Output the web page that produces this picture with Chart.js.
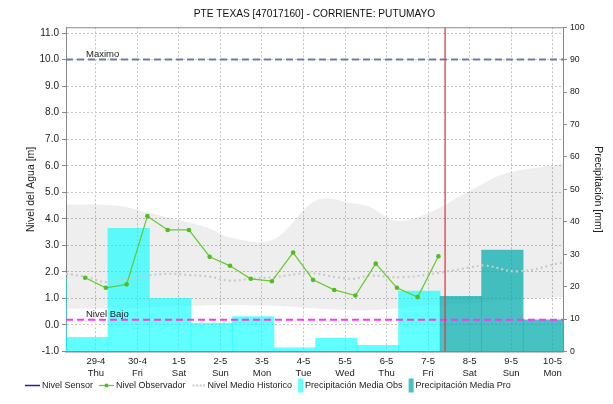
<!DOCTYPE html>
<html>
<head>
<meta charset="utf-8">
<script src="https://cdn.jsdelivr.net/npm/chart.js@4.4.1/dist/chart.umd.min.js"></script>
<style>
  html, body { margin: 0; padding: 0; background: #fff; }
  #wrap { width: 613px; height: 404px; }
</style>
</head>
<body>
<div id="wrap"><canvas id="nivel" width="613" height="404"></canvas></div>
<script>
// eje x: un dia por unidad, 0 = 29-4
var dias = ["29-4", "30-4", "1-5", "2-5", "3-5", "4-5", "5-5", "6-5", "7-5", "8-5", "9-5", "10-5"];
var diasSemana = ["Thu", "Fri", "Sat", "Sun", "Mon", "Tue", "Wed", "Thu", "Fri", "Sat", "Sun", "Mon"];
var diaInicio = -0.72;
var diaFin = 11.25;
var horaActual = 8.41;

// niveles de referencia [m]
var nivelMaximo = 10.0;
var nivelBajo = 0.2;

// lecturas del observador (dia, nivel m)
var obsDia = [-0.26, 0.24, 0.74, 1.24, 1.73, 2.24, 2.74, 3.23, 3.73, 4.24, 4.75, 5.23, 5.74, 6.25, 6.74, 7.25, 7.75, 8.25];
var obsNivel = [1.78, 1.40, 1.53, 4.10, 3.58, 3.58, 2.57, 2.23, 1.74, 1.65, 2.73, 1.70, 1.32, 1.11, 2.31, 1.40, 1.05, 2.59];

// nivel medio historico
var medioDia = [-0.72, -0.26, 0.26, 0.74, 1.22, 1.78, 2.26, 2.75, 3.23, 3.71, 4.26, 5.15, 5.80, 6.19, 6.60, 7.39, 8.36, 9.01, 9.37, 10.16, 11.25];
var medioNivel = [1.93, 1.82, 1.61, 1.74, 1.86, 1.93, 1.88, 1.82, 1.67, 1.74, 1.80, 1.95, 1.80, 1.74, 1.86, 1.80, 1.99, 2.17, 2.24, 2.02, 2.36];

// rango historico (maximo / minimo)
var rangoDia = [-0.72, 0.5, 1.22, 2.34, 2.75, 3.23, 4.26, 5.32, 6.19, 6.6, 7.24, 7.97, 9.01, 9.85, 11.25];
var rangoSup = [4.54, 4.50, 4.25, 3.82, 3.63, 3.30, 3.21, 4.71, 4.59, 4.45, 3.93, 4.19, 5.06, 5.70, 6.08];
var rangoInf = [0.61, 0.63, 0.66, 0.72, 0.74, 0.75, 0.72, 0.62, 0.55, 0.55, 0.62, 0.72, 0.82, 0.92, 1.05];

// precipitacion diaria [mm]
var precipObsDia = [-1, 0, 1, 2, 3, 4, 5, 6, 7, 8];
var precipObs = [22.8, 4.4, 38.0, 16.4, 8.8, 10.8, 1.1, 4.1, 1.9, 18.6];
var precipProDia = [9, 10, 11];
var precipPro = [17.0, 31.3, 9.8];
var desfaseLluvia = -0.21; // ventana de acumulacion respecto al dia

var fuente = "'Liberation Sans', Arial, sans-serif";
var colorCyan = "rgba(0,255,255,0.62)";
var colorTeal = "rgba(0,170,170,0.72)";

function pares(xs, ys) {
  return xs.map(function (x, i) { return { x: x, y: ys[i] }; });
}
function barras(ds, vals) {
  return ds.map(function (d, i) { return { x: d + desfaseLluvia, y: vals[i] }; });
}

// simbolos de la leyenda: ancho y como dibujarlos en (x, y centro)
function linea(g, x, y, color, ancho) {
  g.strokeStyle = color; g.lineWidth = ancho;
  g.beginPath(); g.moveTo(x, y); g.lineTo(x + 15, y); g.stroke();
}
var simbolos = [
  { ancho: 15, dibujar: function (g, x, y) { linea(g, x, y, "#1c1cb4", 1.5); } },
  { ancho: 15, dibujar: function (g, x, y) {
      linea(g, x, y, "#66cc33", 1.3);
      g.fillStyle = "#55bb22"; g.beginPath(); g.arc(x + 7.5, y, 2, 0, Math.PI * 2); g.fill();
  } },
  { ancho: 14, dibujar: function (g, x, y) {
      g.fillStyle = "#cccccc";
      for (var i = 0; i < 4; i++) g.fillRect(x + 1 + i * 3.5, y - 1, 2, 2);
  } },
  { ancho: 5, dibujar: function (g, x, y) { g.fillStyle = colorCyan; g.fillRect(x, y - 7, 5, 14); } },
  { ancho: 5, dibujar: function (g, x, y) { g.fillStyle = colorTeal; g.fillRect(x, y - 7, 5, 14); } }
];
var leyendaX = 25, leyendaY = 385.5;

// lineas de referencia, marca de hora actual, marco superior y leyenda
var extras = {
  id: "extras",
  afterDatasetsDraw: function (chart) {
    var ctx = chart.ctx, a = chart.chartArea, y = chart.scales.y, x = chart.scales.x;
    ctx.save();
    ctx.beginPath(); ctx.rect(a.left, a.top, a.right - a.left, a.bottom - a.top); ctx.clip();
    function horizontal(v, color, texto) {
      var py = y.getPixelForValue(v);
      ctx.strokeStyle = color; ctx.lineWidth = 2; ctx.setLineDash([7, 4]);
      ctx.beginPath(); ctx.moveTo(a.left, py); ctx.lineTo(a.right, py); ctx.stroke();
      ctx.setLineDash([]);
      ctx.fillStyle = "#222"; ctx.font = "9.5px " + fuente;
      ctx.textAlign = "left"; ctx.textBaseline = "alphabetic";
      ctx.fillText(texto, a.left + 20, py - 3);
    }
    horizontal(nivelMaximo, "#6e7ca3", "Maximo");
    horizontal(nivelBajo, "#ff33ff", "Nivel Bajo");
    var px = x.getPixelForValue(horaActual);
    ctx.strokeStyle = "#e83a3a"; ctx.lineWidth = 1.3;
    ctx.beginPath(); ctx.moveTo(px, a.top); ctx.lineTo(px, a.bottom); ctx.stroke();
    ctx.restore();
    ctx.save();
    ctx.strokeStyle = "#888"; ctx.lineWidth = 1;
    ctx.beginPath(); ctx.moveTo(a.left, a.top + 0.5); ctx.lineTo(a.right, a.top + 0.5); ctx.stroke();
    ctx.restore();
  },
  afterDraw: function (chart) {
    var ctx = chart.ctx, px = leyendaX;
    ctx.save();
    ctx.font = "9px " + fuente; ctx.textAlign = "left"; ctx.textBaseline = "middle";
    simbolos.forEach(function (s, i) {
      var texto = chart.data.datasets[i].label;
      s.dibujar(ctx, px, leyendaY);
      px += s.ancho + 2;
      ctx.fillStyle = "#222";
      ctx.fillText(texto, px, leyendaY);
      px += ctx.measureText(texto).width + 6;
    });
    ctx.restore();
  }
};

var ctx = document.getElementById("nivel").getContext("2d");
var chart = new Chart(ctx, {
  type: "bar",
  data: {
    datasets: [
      {
        type: "line", label: "Nivel Sensor", data: [], yAxisID: "y",
        borderColor: "#1c1cb4", backgroundColor: "#1c1cb4", order: 0
      },
      {
        type: "line", label: "Nivel Observador", data: pares(obsDia, obsNivel), yAxisID: "y",
        borderColor: "#66cc33", backgroundColor: "#55bb22", borderWidth: 1.3,
        pointRadius: 2.3, pointBorderWidth: 0, tension: 0, order: 1
      },
      {
        type: "line", label: "Nivel Medio Historico", data: pares(medioDia, medioNivel), yAxisID: "y",
        borderColor: "#cacaca", borderWidth: 2.2, borderDash: [2, 3], pointRadius: 0,
        tension: 0.4, clip: 0, order: 2
      },
      {
        label: "Precipitación Media Obs", data: barras(precipObsDia, precipObs), yAxisID: "y1",
        backgroundColor: colorCyan, borderWidth: 0,
        grouped: false, barPercentage: 1, categoryPercentage: 1, clip: 0, order: 4
      },
      {
        label: "Precipitación Media Pro", data: barras(precipProDia, precipPro), yAxisID: "y1",
        backgroundColor: colorTeal, borderWidth: 0,
        grouped: false, barPercentage: 1, categoryPercentage: 1, clip: 0, order: 3
      },
      {
        type: "line", label: "rangoSup", data: pares(rangoDia, rangoSup), yAxisID: "y",
        borderColor: "transparent", backgroundColor: "rgba(0,0,0,0.065)", pointRadius: 0,
        fill: "+1", tension: 0.35, clip: 0, order: 6
      },
      {
        type: "line", label: "rangoInf", data: pares(rangoDia, rangoInf), yAxisID: "y",
        borderColor: "transparent", pointRadius: 0, fill: false, tension: 0.35, clip: 0, order: 7
      }
    ]
  },
  options: {
    responsive: false,
    animation: false,
    devicePixelRatio: 1,
    layout: { padding: { bottom: 24.5 } },
    scales: {
      x: {
        type: "linear", min: diaInicio, max: diaFin, offset: false,
        afterBuildTicks: function (s) { s.ticks = dias.map(function (d, i) { return { value: i }; }); },
        afterFit: function (s) { s.height = 28; },
        ticks: {
          autoSkip: false, maxRotation: 0, padding: 3.5, color: "#222",
          font: { family: fuente, size: 9.5, lineHeight: 1.3 },
          callback: function (v) { return [dias[v], diasSemana[v]]; }
        },
        grid: { color: "#c6c6c6", drawTicks: false, offset: false },
        border: { color: "#888", width: 1.5, dash: [2, 2] }
      },
      y: {
        position: "left", min: -1, max: 11.22,
        afterBuildTicks: function (s) {
          var t = [];
          for (var v = -1; v <= 11; v++) t.push({ value: v });
          s.ticks = t;
        },
        afterFit: function (s) { s.width = 66; },
        ticks: {
          padding: 3, color: "#222", font: { family: fuente, size: 10 },
          callback: function (v) { return v.toFixed(1); }
        },
        grid: { color: "#c6c6c6", tickLength: 4, tickColor: "#888" },
        border: { color: "#888", dash: [2, 2] },
        title: {
          display: true, text: "Nivel del Agua [m]", color: "#222",
          font: { family: fuente, size: 10.5 }, padding: { top: 25 }
        }
      },
      y1: {
        position: "right", min: 0, max: 100,
        ticks: { stepSize: 10, padding: 3, color: "#222", font: { family: fuente, size: 8.7 } },
        afterFit: function (s) { s.width = 50; },
        grid: { drawOnChartArea: false, tickLength: 4, tickColor: "#888" },
        border: { color: "#888" },
        title: {
          display: true, text: "Precipitación [mm]", color: "#222",
          font: { family: fuente, size: 10.5 }, padding: { top: 9 }
        }
      }
    },
    plugins: {
      filler: { drawTime: "beforeDatasetsDraw" },
      tooltip: { enabled: false },
      legend: { display: false },
      title: {
        display: true, fullSize: false, text: "PTE TEXAS [47017160] - CORRIENTE: PUTUMAYO",
        color: "#111", font: { family: fuente, size: 10.2, weight: "normal" },
        padding: { top: 8, bottom: 7 }
      }
    }
  },
  plugins: [extras]
});
</script>
</body>
</html>
